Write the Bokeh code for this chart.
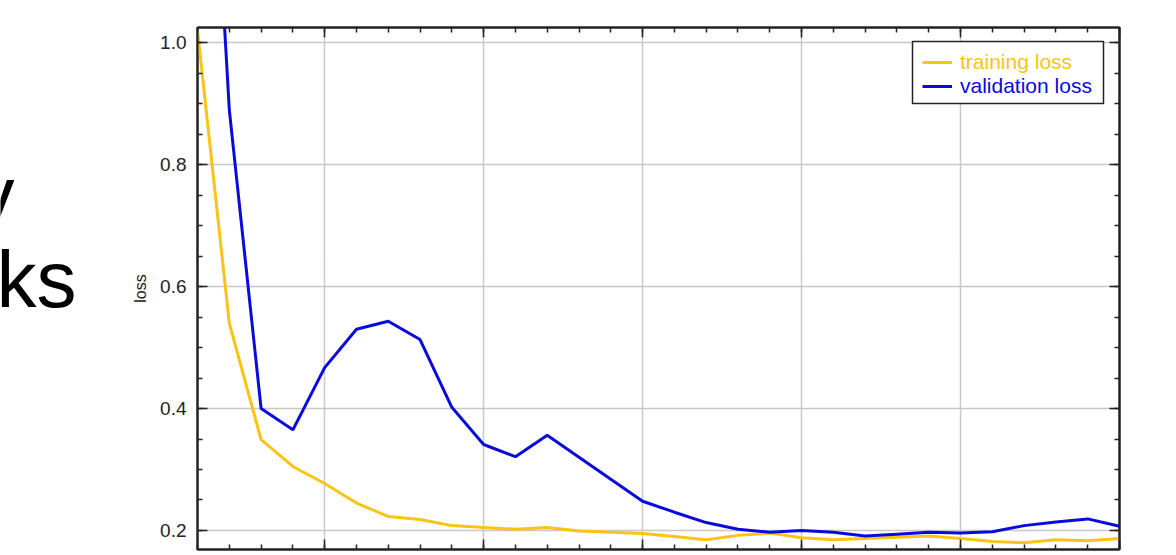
from bokeh.plotting import figure
from bokeh.layouts import row
from bokeh.models import (Range1d, LinearAxis, FixedTicker, SingleIntervalTicker, Grid,
                          Legend, LegendItem, BoxAnnotation, PrintfTickFormatter)
from bokeh.core.properties import value
from bokeh.embed import file_html
from bokeh.resources import INLINE
import numpy as np

# ---- data ----
epochs = list(range(1, 31))
train_loss = [1.02, 0.54, 0.349, 0.305, 0.277, 0.245, 0.223, 0.218, 0.208, 0.205,
              0.202, 0.205, 0.199, 0.197, 0.195, 0.190, 0.185, 0.192, 0.196, 0.188,
              0.185, 0.187, 0.189, 0.191, 0.187, 0.182, 0.180, 0.185, 0.183, 0.187]
val_loss = [1.8, 0.89, 0.400, 0.365, 0.467, 0.530, 0.543, 0.513, 0.402, 0.341,
            0.321, 0.356, 0.320, 0.284, 0.248, 0.230, 0.213, 0.202, 0.197, 0.200,
            0.197, 0.191, 0.194, 0.197, 0.196, 0.198, 0.208, 0.214, 0.219, 0.207]
y_ticks = [0.2, 0.4, 0.6, 0.8, 1.0]
series_names = ["training loss", "validation loss"]
slide_text = ["y", "ks"]

YEL = "#F9C416"
BLU = "#0A0ADC"
FONT = "Liberation Sans"

# ---- left strip with the slide's (cut-off) text ----
TW = 80
ft = figure(width=TW, height=555, output_backend="svg", toolbar_location=None,
            x_axis_type=None, y_axis_type=None,
            x_range=Range1d(0, TW), y_range=Range1d(555, 0), min_border=0)
ft.outline_line_color = None
ft.text(x=[14, 76], y=[178, 268], text=slide_text, text_align="right",
        text_baseline="alphabetic", text_font=value(FONT), text_font_size=value("80px"),
        text_color="black")

# ---- main chart ----
p = figure(width=1170 - TW, height=555, output_backend="svg", toolbar_location=None,
           x_axis_type=None, y_axis_type=None,
           x_range=Range1d(1, 30), y_range=Range1d(0.16885, 1.0246),
           min_border_left=197 - TW, min_border_right=51, min_border_top=27, min_border_bottom=6)
p.outline_line_color = "#222222"
p.outline_line_width = 2

xt = SingleIntervalTicker(interval=5, num_minor_ticks=5)
yt = FixedTicker(ticks=y_ticks, minor_ticks=list(np.round(np.arange(0.15, 1.05, 0.05), 2)))

p.add_layout(Grid(dimension=0, ticker=xt, grid_line_color="#c8c8c8", grid_line_width=1.5))
p.add_layout(Grid(dimension=1, ticker=yt, grid_line_color="#c8c8c8", grid_line_width=1.5))

def style(ax, show_labels):
    ax.major_tick_in = 10
    ax.major_tick_out = 0
    ax.minor_tick_in = 5
    ax.minor_tick_out = 0
    ax.axis_line_color = "#222222"
    ax.axis_line_width = 2
    ax.major_tick_line_color = "#222222"
    ax.major_tick_line_width = 1.5
    ax.minor_tick_line_color = "#222222"
    ax.minor_tick_line_width = 1.5
    if show_labels:
        ax.major_label_text_font = FONT
        ax.major_label_text_font_size = "19px"
        ax.major_label_text_color = "#222222"
        ax.major_label_standoff = 11
    else:
        ax.major_label_text_color = None
        ax.major_label_text_font_size = "1px"
        ax.major_label_standoff = 0

left = LinearAxis(ticker=yt, formatter=PrintfTickFormatter(format="%.1f"), axis_label="loss")
style(left, True)
left.axis_label_text_font = FONT
left.axis_label_text_font_size = "16px"
left.axis_label_text_font_style = "normal"
left.axis_label_text_color = "#222222"
left.axis_label_standoff = 8
p.add_layout(left, "left")

right = LinearAxis(ticker=yt)
style(right, False)
p.add_layout(right, "right")

top = LinearAxis(ticker=xt)
style(top, False)
p.add_layout(top, "above")

bottom = LinearAxis(ticker=xt)
style(bottom, False)
p.add_layout(bottom, "below")

r1 = p.line(epochs, train_loss, line_color=YEL, line_width=3)
r2 = p.line(epochs, val_loss, line_color=BLU, line_width=3)

box = BoxAnnotation(left=715, right=906, top=508, bottom=446,
                    left_units="screen", right_units="screen", top_units="screen", bottom_units="screen",
                    fill_color="white", fill_alpha=1.0, line_color="#222222", line_width=1.5, line_alpha=1.0)
p.add_layout(box)

def make_legend(name, rend, color, loc):
    return Legend(items=[LegendItem(label=name, renderers=[rend])], location=loc,
                  orientation="vertical", padding=0, margin=0, spacing=0,
                  label_height=24, glyph_height=24, glyph_width=30, label_standoff=8,
                  label_text_color=color, label_text_font=FONT, label_text_font_size="21px",
                  border_line_alpha=0, background_fill_alpha=0)

p.add_layout(make_legend(series_names[0], r1, YEL, (725, 475)))
p.add_layout(make_legend(series_names[1], r2, BLU, (725, 451)))

layout = row(ft, p)
open("out.html", "w").write(file_html(layout, INLINE))
